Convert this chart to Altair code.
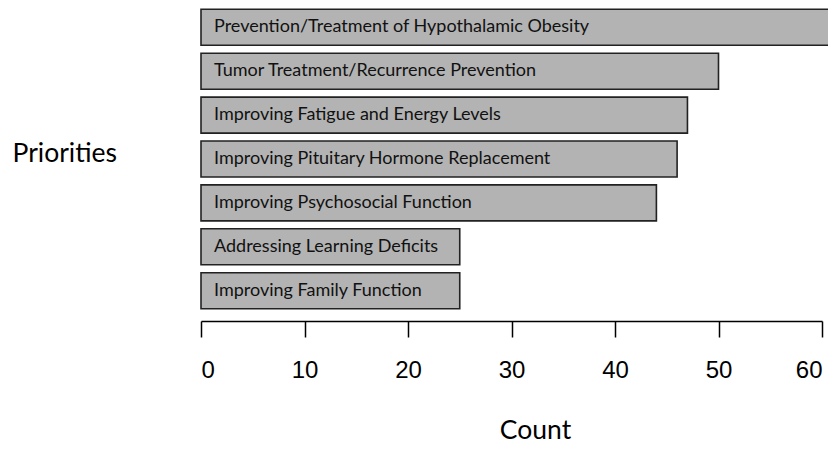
import altair as alt
import pandas as pd

categories = [
    "Prevention/Treatment of Hypothalamic Obesity",
    "Tumor Treatment/Recurrence Prevention",
    "Improving Fatigue and Energy Levels",
    "Improving Pituitary Hormone Replacement",
    "Improving Psychosocial Function",
    "Addressing Learning Deficits",
    "Improving Family Function",
]
counts = [65, 50, 47, 46, 44, 25, 25]
x_ticks = [0, 10, 20, 30, 40, 50, 60]

df = pd.DataFrame({"priority": categories, "count": counts})

y_enc = alt.Y(
    "priority:N",
    sort=categories,
    scale=alt.Scale(paddingInner=0.18, paddingOuter=0.03),
    axis=alt.Axis(
        labels=False, ticks=False, domain=False, title="Priorities",
        titleAngle=0, titleAlign="left", titleBaseline="middle",
        titleX=-189, titleY=145, titleFont="Lato", titleFontSize=26.5,
        titleFontWeight="normal", titleColor="#000",
    ),
)

bars = alt.Chart(df).mark_bar(
    fill="#b3b3b3", stroke="#222", strokeWidth=1.6, clip=False
).encode(
    x=alt.X(
        "count:Q",
        scale=alt.Scale(domain=[0, 60], nice=False),
        axis=alt.Axis(
            values=x_ticks, grid=False, offset=11, tickSize=16,
            tickColor="#000", domainColor="#000", tickWidth=1.5, domainWidth=1.5,
            labelFont="Liberation Sans", labelFontSize=24, labelColor="#000",
            labelPadding=21, title="Count", titleFont="Lato", titleFontSize=26.5,
            titleFontWeight="normal", titleColor="#000", titleX=334, titleY=117,
            titleBaseline="alphabetic",
        ),
    ),
    y=y_enc,
)

labels = alt.Chart(df).mark_text(
    align="left", baseline="middle", dx=13, font="Lato", fontSize=18, color="#111"
).encode(
    x=alt.datum(0),
    y=alt.Y("priority:N", sort=categories),
    text="priority:N",
)

chart = (
    alt.layer(bars, labels)
    .properties(
        width=621, height=302,
        padding={"left": 193, "top": 0, "right": 6, "bottom": 135},
        autosize=alt.AutoSizeParams(type="none"),
    )
    .configure_view(stroke=None)
)

chart.save("out.html", embed_options={"renderer": "svg", "actions": False})
